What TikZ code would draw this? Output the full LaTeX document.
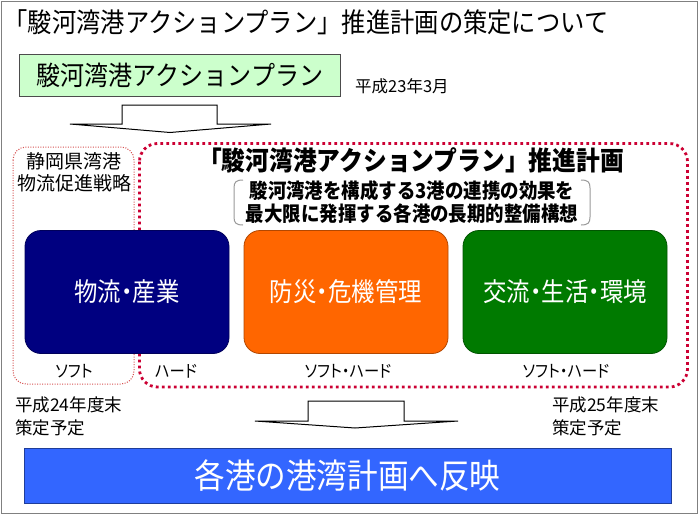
\documentclass[tikz,border=0pt]{standalone}
\usepackage{fontspec}
\newfontfamily\jp{Noto Sans CJK JP}
\newfontfamily\jpc[FakeStretch=0.9]{Noto Sans CJK JP}
\newfontfamily\jpp[FakeStretch=0.9,RawFeature=+palt]{Noto Sans CJK JP}
\definecolor{navybox}{RGB}{0,0,128}
\definecolor{orangebox}{RGB}{255,102,0}
\definecolor{greenbox}{RGB}{0,122,0}
\definecolor{lightgreen}{RGB}{204,255,204}
\definecolor{barblue}{RGB}{51,102,255}
\definecolor{crimsondot}{RGB}{204,0,51}
\definecolor{pinkdot}{RGB}{215,80,80}
\tikzset{
  txt/.style={inner sep=0pt, font=\jp\fontsize{#1}{#1}\selectfont},
  txtp/.style={inner sep=0pt, font=\jpp\fontsize{#1}{#1}\selectfont},
  txtc/.style={inner sep=0pt, font=\jpc\fontsize{#1}{#1}\selectfont},
  txtcb/.style={inner sep=0pt, font=\jpc\bfseries\fontsize{#1}{#1}\selectfont},
  colbox/.style={draw=#1!70!black, fill=#1, line width=0.8pt, rounded corners=16pt,
    minimum width=204pt, minimum height=123pt, text=white, inner sep=0pt,
    font=\jpp\fontsize{26}{26}\selectfont},
  bigarrow/.style={draw=black, fill=white, line width=1pt, line join=miter},
}
\begin{document}
\begin{tikzpicture}[x=1pt,y=-1pt]
\useasboundingbox (0,0) rectangle (700,516);
\fill[white] (0,0) rectangle (700,516);
\draw[gray, line width=1.5pt] (1.5,1.5) rectangle (697.5,513.5);

% title
\node[txtc=27, anchor=center] (title) at (306,22) {「駿河湾港アクションプラン」推進計画の策定について};

% green box
\node[draw=black!70, fill=lightgreen, line width=0.8pt, minimum width=321pt, minimum height=42pt,
      inner sep=0pt, font=\jpc\fontsize{26.7}{26.7}\selectfont] (plan) at (180,75) {駿河湾港アクションプラン};
\node[txt=16.5, anchor=west] (date1) at (355,86) {平成23年3月};

% arrow 1
\draw[bigarrow] (122,105) -- (217,105) -- (217,124) -- (271,124) -- (170,132.5) -- (70,124) -- (122,124) -- cycle;

% dotted frames
\draw[pinkdot, line width=1pt, dash pattern=on 1pt off 1.5pt, rounded corners=13pt] (13,147) rectangle (134,384);
\draw[crimsondot, line width=2.8pt, dash pattern=on 2.8pt off 3.2pt, rounded corners=18pt] (139.5,143.5) rectangle (687.5,387);

% left text
\node[txt=19] (shz1) at (74,161) {静岡県湾港};
\node[txt=19] (shz2) at (74,183) {物流促進戦略};

% inner title
\node[txtcb=26.4] (ptitle) at (411,160) {「駿河湾港アクションプラン」推進計画};
\node[txtcb=20.5] (sub1) at (412,191) {駿河湾港を構成する3港の連携の効果を};
\node[txtcb=20.5] (sub2) at (412,214) {最大限に発揮する各港の長期的整備構想};
% bracket pair
\draw[gray!80, line width=1pt] (243,180) .. controls (236,180) and (234,182) .. (234,188) -- (234,217) .. controls (234,223) and (236,225) .. (243,225);
\draw[gray!80, line width=1pt] (581,180) .. controls (588,180) and (590,182) .. (590,188) -- (590,217) .. controls (590,223) and (588,225) .. (581,225);

% colored boxes
\node[colbox=navybox] (logi) at (127,292) {\raisebox{-5pt}{物流・産業}};
\node[colbox=orangebox] (disa) at (346,292) {\raisebox{-5pt}{防災・危機管理}};
\node[colbox=greenbox] (life) at (565,292) {\raisebox{-5pt}{交流・生活・環境}};

% labels
\node[txtp=17] (l1) at (74,371) {ソフト};
\node[txtp=17] (l2) at (176,371) {ハード};
\node[txtp=17] (l3) at (348,371) {ソフト・ハード};
\node[txtp=17] (l4) at (566,371) {ソフト・ハード};

\node[txt=17.5, anchor=west] (d24a) at (15,405) {平成24年度末};
\node[txt=17.5, anchor=west] (d24b) at (15,428) {策定予定};
\node[txt=17.5, anchor=west] (d25a) at (552,405) {平成25年度末};
\node[txt=17.5, anchor=west] (d25b) at (552,428) {策定予定};

% arrow 2
\draw[bigarrow] (308,401) -- (404,401) -- (404,421) -- (458,421) -- (355,428) -- (255,421) -- (308,421) -- cycle;

% bottom bar
\node[draw=barblue!60!black, fill=barblue, line width=0.8pt, minimum width=647pt, minimum height=55pt,
      inner sep=0pt, text=white, font=\jpc\fontsize{34}{34}\selectfont] (bar) at (347.5,475.5) {各港の港湾計画へ反映};
\end{tikzpicture}
\end{document}
